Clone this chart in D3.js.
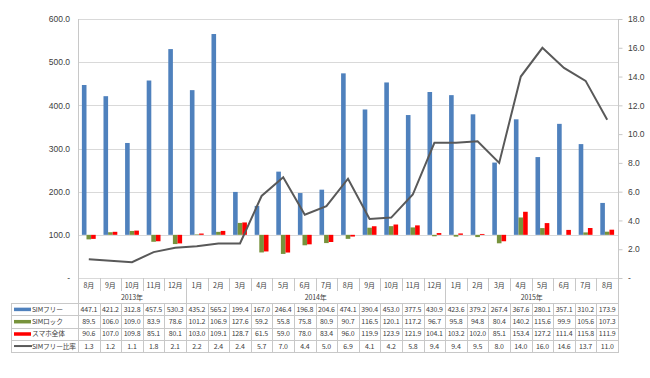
<!DOCTYPE html>
<html>
<head>
<meta charset="utf-8">
<script src="https://cdn.jsdelivr.net/npm/d3@7"></script>
<style>
  body { margin: 0; background: #fff; }
  svg { display: block; font-family: "Noto Sans CJK JP", "Noto Sans", sans-serif; }
  .grid { stroke: #d9d9d9; stroke-width: 1; }
  .tbl { stroke: #c8c8c8; stroke-width: 1; }
  .ax text { fill: #404040; font-size: 8.5px; }
  .cell { fill: #404040; font-size: 7px; text-anchor: middle; letter-spacing: -0.15px; }
</style>
</head>
<body>
<svg id="chart" width="650" height="378"></svg>
<script>
let months = ["8月","9月","10月","11月","12月","1月","2月","3月","4月","5月","6月","7月","8月","9月","10月","11月","12月","1月","2月","3月","4月","5月","6月","7月","8月"];
let years = [["2013年", 5], ["2014年", 12], ["2015年", 8]];
let simFree = [447.1,421.2,312.8,457.5,530.3,435.2,565.2,199.4,167.0,246.4,196.8,204.6,474.1,390.4,453.0,377.5,430.9,423.6,379.2,267.4,367.6,280.1,357.1,310.2,173.9];
let simLock = [89.5,106.0,109.0,83.9,78.6,101.2,106.9,127.6,59.2,55.8,75.8,80.9,90.7,116.5,120.1,117.2,96.7,95.8,94.8,80.4,140.2,115.6,99.9,105.6,107.3];
let smartAll = [90.6,107.0,109.8,85.1,80.1,103.0,109.1,128.7,61.5,59.0,78.0,83.4,96.0,119.9,123.9,121.9,104.1,103.2,102.0,85.1,153.4,127.2,111.4,115.8,111.9];
let ratio = [1.3,1.2,1.1,1.8,2.1,2.2,2.4,2.4,5.7,7.0,4.4,5.0,6.9,4.1,4.2,5.8,9.4,9.4,9.5,8.0,14.0,16.0,14.6,13.7,11.0];
let leftTicks = [0,100,200,300,400,500,600];
let rightTicks = [0,2,4,6,8,10,12,14,16,18];

let barSeries = [
    {name: "SIMフリー", values: simFree, color: "#4f81bd"},
    {name: "SIMロック", values: simLock, color: "#77933c"},
    {name: "スマホ全体", values: smartAll, color: "#ff0000"}
];
let lineColor = "#595959";

let svg = d3.select("#chart");
let plotLeft = 78, plotRight = 618, plotTop = 19, plotBottom = 278;

let x = d3.scaleBand().domain(d3.range(months.length)).range([plotLeft, plotRight]).padding(0);
let bw = x.bandwidth();
let xIn = d3.scaleBand().domain(d3.range(barSeries.length)).range([bw * 0.18, bw * 0.82]).padding(0);
let y = d3.scaleLinear().domain([0, 600]).range([plotBottom, plotTop]);
let y2 = d3.scaleLinear().domain([0, 18]).range([plotBottom, plotTop]);
let base = 100;
let xEdge = i => Math.round(i === months.length ? plotRight : x(i)) + 0.5;

// gridlines
svg.append("g")
    .selectAll("line")
    .data(leftTicks)
    .enter()
    .append("line")
    .attr("class", "grid")
    .attr("x1", plotLeft).attr("x2", plotRight)
    .attr("y1", d => Math.round(y(d)) + 0.5).attr("y2", d => Math.round(y(d)) + 0.5);

// left axis
let la = svg.append("g")
    .attr("class", "ax")
    .attr("transform", "translate(" + plotLeft + ",0)")
    .call(d3.axisLeft(y).tickValues(leftTicks).tickSize(0).tickPadding(8)
        .tickFormat(d => d === 0 ? "-" : d3.format(".1f")(d)));
la.select(".domain").remove();

// right axis
let ra = svg.append("g")
    .attr("class", "ax")
    .attr("transform", "translate(" + plotRight + ",0)")
    .call(d3.axisRight(y2).tickValues(rightTicks).tickSize(4).tickPadding(6)
        .tickFormat(d => d === 0 ? "-" : d3.format(".1f")(d)));
ra.select(".domain").remove();
ra.selectAll(".tick line").attr("stroke", "#c8c8c8").attr("transform", "translate(0.5,0)");

// bars from base 100
barSeries.forEach((s, si) => {
    svg.append("g")
        .selectAll("rect")
        .data(s.values)
        .enter()
        .append("rect")
        .attr("x", (d, i) => x(i) + xIn(si))
        .attr("width", xIn.bandwidth())
        .attr("y", d => Math.min(y(d), y(base)))
        .attr("height", d => Math.abs(y(d) - y(base)))
        .attr("fill", s.color);
});

// ratio line
let line = d3.line()
    .x((d, i) => x(i) + bw / 2)
    .y(d => y2(d));

svg.append("path")
    .attr("d", line(ratio))
    .attr("fill", "none")
    .attr("stroke", lineColor)
    .attr("stroke-width", 2);

// table
let rowMonth = [plotBottom, 291], rowYear = [291, 303];
let rowH = 12.3;
let dataTop = 303;
let rows = [
    {name: "SIMフリー", values: simFree, color: "#4f81bd", kind: "bar"},
    {name: "SIMロック", values: simLock, color: "#77933c", kind: "bar"},
    {name: "スマホ全体", values: smartAll, color: "#ff0000", kind: "bar"},
    {name: "SIMフリー比率", values: ratio, color: lineColor, kind: "line"}
];
let fmt = d3.format(".1f");
let tableBottom = dataTop + rowH * rows.length;
let legLeft = 11;

let t = svg.append("g");

// month separators
t.selectAll(".msep")
    .data(d3.range(months.length + 1))
    .enter()
    .append("line")
    .attr("class", "tbl")
    .attr("x1", xEdge).attr("x2", xEdge)
    .attr("y1", plotBottom).attr("y2", rowMonth[1]);

// year boundaries
let yb = [0];
years.forEach(d => yb.push(yb[yb.length - 1] + d[1]));
t.selectAll(".ysep")
    .data(yb)
    .enter()
    .append("line")
    .attr("class", "tbl")
    .attr("x1", xEdge).attr("x2", xEdge)
    .attr("y1", rowYear[0]).attr("y2", dataTop);

// full-height plot edges
[plotLeft, plotRight].forEach(px => {
    t.append("line").attr("class", "tbl")
        .attr("x1", px + 0.5).attr("x2", px + 0.5)
        .attr("y1", plotTop).attr("y2", tableBottom);
});

// data row verticals
t.selectAll(".dsep")
    .data(d3.range(months.length + 1))
    .enter()
    .append("line")
    .attr("class", "tbl")
    .attr("x1", xEdge).attr("x2", xEdge)
    .attr("y1", dataTop).attr("y2", tableBottom);

t.append("line").attr("class", "tbl")
    .attr("x1", legLeft + 0.5).attr("x2", legLeft + 0.5)
    .attr("y1", dataTop).attr("y2", tableBottom);

// data row horizontals
t.selectAll(".hsep")
    .data(d3.range(rows.length + 1))
    .enter()
    .append("line")
    .attr("class", "tbl")
    .attr("x1", legLeft).attr("x2", plotRight + 1)
    .attr("y1", i => Math.round(dataTop + i * rowH) + 0.5)
    .attr("y2", i => Math.round(dataTop + i * rowH) + 0.5);

// month labels
t.selectAll(".mlab")
    .data(months)
    .enter()
    .append("text")
    .attr("class", "cell")
    .attr("x", (d, i) => x(i) + bw / 2)
    .attr("y", (rowMonth[0] + rowMonth[1]) / 2 + 3)
    .text(d => d);

// year labels
t.selectAll(".ylab")
    .data(years)
    .enter()
    .append("text")
    .attr("class", "cell")
    .attr("x", (d, i) => (x(yb[i]) + (yb[i + 1] === months.length ? plotRight : x(yb[i + 1]))) / 2)
    .attr("y", (rowYear[0] + rowYear[1]) / 2 + 3)
    .text(d => d[0]);

// data rows
rows.forEach((r, ri) => {
    let cy = dataTop + ri * rowH + rowH / 2;
    let g = t.append("g");
    if (r.kind === "bar") {
        g.append("rect")
            .attr("x", 14).attr("y", cy - 1.5)
            .attr("width", 17).attr("height", 3.5)
            .attr("fill", r.color);
    } else {
        g.append("line")
            .attr("x1", 14).attr("x2", 32)
            .attr("y1", cy).attr("y2", cy)
            .attr("stroke", r.color).attr("stroke-width", 2);
    }
    g.append("text")
        .attr("x", 32).attr("y", cy + 2.6)
        .attr("fill", "#404040")
        .style("font-size", "6.8px")
        .style("letter-spacing", "-0.2px")
        .text(r.name);
    g.selectAll(".v")
        .data(r.values)
        .enter()
        .append("text")
        .attr("class", "cell")
        .attr("x", (d, i) => x(i) + bw / 2)
        .attr("y", cy + 2.6)
        .text(d => fmt(d));
});
</script>
</body>
</html>
